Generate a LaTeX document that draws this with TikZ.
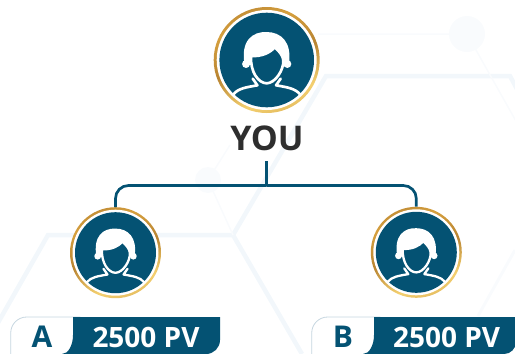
\documentclass[tikz,border=0pt]{standalone}
\usepackage{fontspec}
\setmainfont{Open Sans}
\RequirePackage{xcolor}
\definecolor{teamblue}{RGB}{4,82,115}
\definecolor{teamgold}{RGB}{214,160,62}
\definecolor{teamgolddark}{RGB}{184,132,50}
\definecolor{teamgoldlight}{RGB}{244,208,112}
\definecolor{teamtext}{RGB}{46,46,46}
\definecolor{teamline}{RGB}{242,247,251}
\definecolor{teamfaint}{RGB}{249,251,253}
\definecolor{teamedge}{RGB}{198,214,224}
\pgfdeclareverticalshading{goldring}{100bp}{color(0bp)=(teamgolddark); color(32bp)=(teamgoldlight); color(50bp)=(teamgolddark); color(68bp)=(teamgold); color(80bp)=(teamgolddark); color(100bp)=(teamgoldlight)}
\tikzset{
  ring/.style={circle, inner sep=0pt, shading=goldring, shading angle=20},
  gap/.style={circle, inner sep=0pt, fill=white},
  disc/.style={circle, inner sep=0pt, fill=teamblue},
  link/.style={draw=teamblue, line width=2.7pt, rounded corners=13pt},
  badgetext/.style={text=white, font=\bfseries\fontsize{28}{28}\selectfont, inner sep=0pt},
  badgeletter/.style={text=teamblue, font=\bfseries\fontsize{30}{30}\selectfont, inner sep=0pt},
  pics/person/.style={code={
    \begin{scope}[scale=#1, line width=#1*8pt, white, line join=round, line cap=round]
      \fill (-62,12) circle (12) (62,12) circle (12);
      \fill (-66,15) .. controls (-80,-58) and (-42,-86) .. (0,-84) .. controls (42,-84) and (78,-55) .. (66,15) -- cycle;
      \filldraw [fill=teamblue] (-47,-12) .. controls (-15,-10) and (10,-22) .. (24,-38) .. controls (36,-28) and (48,-15) .. (50,0) .. controls (52,30) and (25,70) .. (0,70) .. controls (-25,70) and (-50,35) .. (-47,-12) -- cycle;
      \draw (-100,103) .. controls (-85,85) and (-62,82) .. (-28,76) -- (-42,56);
      \draw (100,103) .. controls (85,85) and (62,82) .. (28,76) -- (42,56);
    \end{scope}
  }}
}

\begin{document}
\begin{tikzpicture}[x=1pt, y=-1pt]
  \useasboundingbox (0,0) rectangle (515,354);
  \clip (0,0) rectangle (515,354);

  % faint backdrop
  \begin{scope}[draw=teamline, line width=4.5pt]
    \draw (-5,328) -- (48,235) -- (233,235) -- (326,76) -- (510,76) -- (525,104);
    \draw (233,235) -- (302,354);
    \draw [line width=1.5pt, draw=teamfaint] (318,34) -- (467,34) -- (530,146);
    \fill [teamfaint] (467,34) circle (18);
    \fill [teamfaint] (208,180) circle (13);
    \draw [line width=1.5pt, draw=teamfaint] (230,145) -- (208,180) -- (233,235);
    \draw [line width=3pt, draw=teamfaint] (515,250) -- (478,316);
  \end{scope}

  \foreach \name/\x/\y/\outer/\inner/\core/\size in {you/266.7/60/106/100/94.6/0.333, usera/115.5/252.7/91/86/81/0.287, userb/416.3/252.3/91/86/81/0.287} {
    \node [ring, minimum size=\outer pt] (\name) at (\x,\y) {};
    \node [gap, minimum size=\inner pt] (\name gap) at (\name) {};
    \node [disc, minimum size=\core pt] (\name disc) at (\name) {};
    \pic at (\name) {person=\size};
  }

  \node [text=teamtext, font=\bfseries\fontsize{34}{34}\selectfont, inner sep=0pt] (youlabel) at (267,138) {YOU};

  \coordinate (tee) at (266.7,185.5);
  \coordinate (stem) at (266.7,161);
  \draw [link] (stem) -- (tee);
  \draw [link] (tee) -| (usera);
  \draw [link] (tee) -| (userb);

  % badges run off the lower edge
  \filldraw [fill=white, draw=teamedge, line width=0.8pt] (10.7,360) -- (10.7,333) arc[start angle=180, end angle=270, radius=16] -- (80,317) -- (80,360) -- cycle;
  \fill [teamblue] (73,317) -- (220,317) -- (220,340) arc[start angle=0, end angle=90, radius=14] -- (62,354) arc[start angle=90, end angle=0, x radius=11, y radius=19] -- cycle;
  \filldraw [fill=white, draw=teamedge, line width=0.8pt] (311.7,360) -- (311.7,333) arc[start angle=180, end angle=270, radius=16] -- (380,317) -- (380,360) -- cycle;
  \fill [teamblue] (374,317) -- (516,317) -- (516,342) arc[start angle=0, end angle=90, radius=12] -- (363,354) arc[start angle=90, end angle=0, x radius=11, y radius=19] -- cycle;

  \node [badgeletter] (lettera) at (42,337) {A};
  \node [badgetext] (pva) at (146,337) {2500 PV};
  \node [badgeletter] (letterb) at (343,337) {B};
  \node [badgetext] (pvb) at (446.7,337) {2500 PV};
\end{tikzpicture}
\end{document}
